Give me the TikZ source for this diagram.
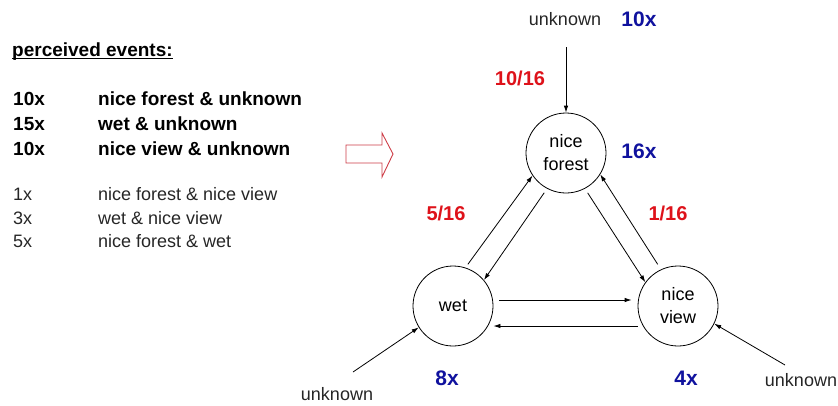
\documentclass[tikz,border=0pt]{standalone}
\usepackage{fontspec}
\setmainfont{Liberation Sans}
\usepackage{tikz}
\usetikzlibrary{arrows.meta}
\definecolor{ratiored}{RGB}{222,18,26}
\definecolor{countblue}{RGB}{16,18,158}
\definecolor{hintred}{RGB}{205,60,70}

\begin{document}
\begin{tikzpicture}[x=1pt, y=-1pt,
    state/.style={circle, draw, line width=0.8pt, minimum size=80pt, inner sep=0pt, align=center, font=\fontsize{18}{23}\selectfont},
    light/.style={inner sep=0pt, text=black!85, font=\fontsize{18}{22}\selectfont},
    heavy/.style={inner sep=0pt, font=\fontsize{19}{23}\selectfont\bfseries},
    ratio/.style={inner sep=0pt, text=ratiored, font=\fontsize{20}{24}\selectfont\bfseries},
    count/.style={inner sep=0pt, text=countblue, font=\fontsize{21}{25}\selectfont\bfseries},
    flow/.style={-{Latex[length=7pt, width=4.5pt]}, line width=0.8pt}]
    \useasboundingbox (0,0) rectangle (838,405);

    % List of perceived events
    \node (title) [heavy, anchor=base west] at (12,56) {perceived events:};
    \draw[line width=1.4pt] ([yshift=-2.5pt]title.base west) -- ([yshift=-2.5pt]title.base east);

    \node (c1) [heavy, anchor=base west] at (13,105) {10x};
    \node (e1) [heavy, anchor=base west] at (98,105) {nice forest \& unknown};
    \node (c2) [heavy, anchor=base west] at (13,130) {15x};
    \node (e2) [heavy, anchor=base west] at (98,130) {wet \& unknown};
    \node (c3) [heavy, anchor=base west] at (13,155) {10x};
    \node (e3) [heavy, anchor=base west] at (98,155) {nice view \& unknown};

    \node (c4) [light, anchor=base west] at (13,200) {1x};
    \node (e4) [light, anchor=base west] at (98,200) {nice forest \& nice view};
    \node (c5) [light, anchor=base west] at (13,224) {3x};
    \node (e5) [light, anchor=base west] at (98,224) {wet \& nice view};
    \node (c6) [light, anchor=base west] at (13,247) {5x};
    \node (e6) [light, anchor=base west] at (98,247) {nice forest \& wet};

    % Hollow arrow
    \draw[hintred, line width=0.9pt] (346,145) -- (382,145) -- (382,133) -- (393,154) -- (382,177) -- (382,163) -- (346,163) -- cycle;

    % States
    \node (forest) [state] at (566,153) {nice\\forest};
    \node (wet) [state] at (453,306) {wet};
    \node (view) [state] at (678,306) {nice\\view};

    % Outside sources
    \node (srcf) [light] at (565,19) {unknown};
    \node (srcw) [light] at (337,394) {unknown};
    \node (srcv) [light] at (801,380) {unknown};
    \coordinate (inf) at (566,47);
    \coordinate (inw) at (353,372);
    \coordinate (inv) at (785,365);

    \draw[flow] (inf) -- (forest);
    \draw[flow] (inw) -- (wet.212);
    \draw[flow] (inv) -- (view.334);

    % Transitions
    \draw[flow, shorten <=4pt] (wet.72) -- (forest.214);
    \draw[flow, shorten <=5pt] (forest.242) -- (wet.40);
    \draw[flow, shorten <=5pt] (forest.298) -- (view.144);
    \draw[flow, shorten <=6pt] (view.115) -- (forest.328);
    \draw[flow, shorten <=6pt, shorten >=6pt] ([yshift=6pt]wet.east) -- ([yshift=6pt]view.west);
    \draw[flow] ([yshift=-20pt]view.west) -- ([yshift=-20pt]wet.east);

    % Counts and ratios
    \node (nsrc) [count] at (639,19) {10x};
    \node (nf) [count] at (639,151) {16x};
    \node (nw) [count] at (447,378) {8x};
    \node (nv) [count] at (686,378) {4x};
    \node (rf) [ratio] at (520,78) {10/16};
    \node (rw) [ratio] at (446,213) {5/16};
    \node (rv) [ratio] at (668,213) {1/16};
\end{tikzpicture}
\end{document}
